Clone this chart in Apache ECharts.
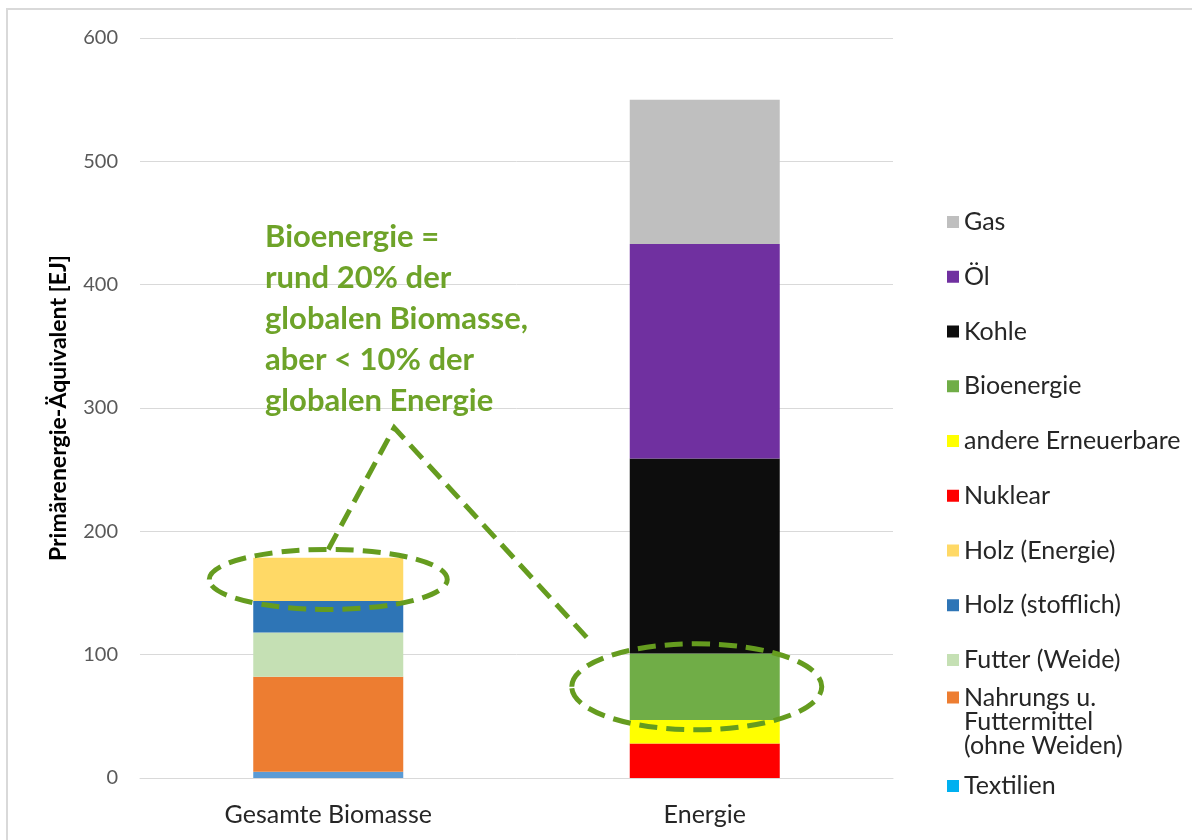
<!DOCTYPE html>
<html>
<head>
<meta charset="utf-8">
<title>Biomasse und Energie</title>
<script src="https://cdn.jsdelivr.net/npm/echarts@6/dist/echarts.min.js"></script>
<style>
  html, body { margin: 0; padding: 0; background: #ffffff; }
  #chart { width: 1192px; height: 840px; }
</style>
</head>
<body>
<div id="chart"></div>
<script>
// Kategorien der x-Achse
const categories = ['Gesamte Biomasse', 'Energie'];

// Gesamte Biomasse, von unten nach oben gestapelt [EJ]
const biomassNames = ['Textilien', 'Nahrungs u.\nFuttermittel\n(ohne Weiden)', 'Futter (Weide)', 'Holz (stofflich)', 'Holz (Energie)'];
const biomassValues = [5, 77, 36, 25.5, 35];
const biomassColors = ['#5b9bd5', '#ed7d31', '#c5e0b4', '#2e75b6', '#ffd966'];

// Globale Primärenergie, von unten nach oben gestapelt [EJ]
const energyNames = ['Nuklear', 'andere Erneuerbare', 'Bioenergie', 'Kohle', 'Öl', 'Gas'];
const energyValues = [28, 19, 54, 158, 174, 117];
const energyColors = ['#ff0000', '#ffff00', '#70ad47', '#0d0d0d', '#7030a0', '#bfbfbf'];

// Achsenbeschriftung der y-Achse
const yTicks = [0, 100, 200, 300, 400, 500, 600];

const annotationText = 'Bioenergie =\nrund 20% der\nglobalen Biomasse,\naber < 10% der\nglobalen Energie';

const FONT = 'Lato, "Open Sans", sans-serif';
const GREEN_DARK = '#659c1f';

const series = [];
biomassNames.forEach((name, i) => {
  series.push({
    name, type: 'bar', stack: 'gesamt', barWidth: 150,
    itemStyle: { color: biomassColors[i] },
    data: [biomassValues[i], null]
  });
});
energyNames.forEach((name, i) => {
  series.push({
    name, type: 'bar', stack: 'gesamt', barWidth: 150,
    itemStyle: { color: energyColors[i] },
    data: [null, energyValues[i]]
  });
});

const legendMain = ['Gas', 'Öl', 'Kohle', 'Bioenergie', 'andere Erneuerbare', 'Nuklear',
  'Holz (Energie)', 'Holz (stofflich)', 'Futter (Weide)'];

const legendText = { fontFamily: FONT, fontSize: 25, color: '#262626', lineHeight: 26 };
const legendCommon = {
  orient: 'vertical', left: 947, padding: 0,
  icon: 'rect', itemWidth: 12, itemHeight: 12,
  selectedMode: false,
  textStyle: legendText
};

const chart = echarts.init(document.getElementById('chart'), null, { renderer: 'canvas' });

chart.setOption({
  animation: false,
  backgroundColor: '#ffffff',
  textStyle: { fontFamily: FONT },
  grid: { left: 140, right: 299, top: 38, bottom: 62, containLabel: false },
  tooltip: { show: false },
  legend: [
    Object.assign({}, legendCommon, { top: 209, itemGap: 28.75, data: legendMain }),
    // mehrzeiliger Eintrag: Symbol auf Höhe der ersten Zeile
    Object.assign({}, legendCommon, {
      top: 637,
      data: [biomassNames[1]],
      formatter: name => '\n\n' + name,
      textStyle: Object.assign({}, legendText, { lineHeight: 24 })
    }),
    Object.assign({}, legendCommon, {
      top: 773,
      data: [{ name: 'Textilien', itemStyle: { color: '#00b0f0' } }]
    })
  ],
  xAxis: {
    type: 'category',
    data: categories,
    axisLine: { lineStyle: { color: '#d9d9d9', width: 1 } },
    axisTick: { show: false },
    axisLabel: { fontFamily: FONT, fontSize: 25, color: '#262626', margin: 24 }
  },
  yAxis: {
    type: 'value',
    min: yTicks[0], max: yTicks[yTicks.length - 1], interval: yTicks[1] - yTicks[0],
    name: 'Primärenergie-Äquivalent [EJ]',
    nameLocation: 'middle', nameRotate: 90, nameGap: 70,
    nameTextStyle: { fontFamily: FONT, fontSize: 23, fontWeight: 'bold', color: '#000000' },
    axisLine: { show: false },
    axisTick: { show: false },
    axisLabel: { fontFamily: FONT, fontSize: 20, color: '#595959', margin: 22 },
    splitLine: { lineStyle: { color: '#d9d9d9', width: 1 } }
  },
  series
});

// Hervorhebungen: Ellipsen um die beiden Bioenergie-Anteile und Verbindungslinie
const holzStoffTop = biomassValues.slice(0, 4).reduce((a, b) => a + b, 0);
const biomassTop = holzStoffTop + biomassValues[4];
const bioBottom = energyValues[0] + energyValues[1];
const bioTop = bioBottom + energyValues[2];

const c1 = chart.convertToPixel({ xAxisIndex: 0, yAxisIndex: 0 }, [0, (holzStoffTop + biomassTop) / 2]);
const c2 = chart.convertToPixel({ xAxisIndex: 0, yAxisIndex: 0 }, [1, (bioBottom + bioTop) / 2]);
c2[0] -= 8;
const r1 = [119, 30];
const r2 = [125, 43];
const apex = [c1[0] + 66, chart.convertToPixel({ yAxisIndex: 0 }, 284)];
const lineEnd = [c2[0] - 107, c2[1] - 46];

const dashed = { fill: null, stroke: GREEN_DARK, lineWidth: 5, lineDash: [18, 9] };

chart.setOption({
  graphic: [
    {
      type: 'rect', z: -10, silent: true,
      shape: { x: 7, y: 9, width: 1400, height: 1000 },
      style: { fill: null, stroke: '#d9d9d9', lineWidth: 2 }
    },
    {
      type: 'ellipse', z: 100, silent: true,
      shape: { cx: c1[0], cy: c1[1], rx: r1[0], ry: r1[1] },
      style: dashed
    },
    {
      type: 'ellipse', z: 100, silent: true,
      shape: { cx: c2[0], cy: c2[1], rx: r2[0], ry: r2[1] },
      style: dashed
    },
    {
      type: 'polyline', z: 100, silent: true,
      shape: { points: [[c1[0], c1[1] - r1[1]], apex, lineEnd] },
      style: dashed
    },
    {
      type: 'text', z: 100, silent: true,
      left: 265, top: 216,
      style: {
        text: annotationText,
        fontFamily: FONT, fontSize: 31, fontWeight: 'bold',
        lineHeight: 41, fill: '#6ea329'
      }
    }
  ]
});
</script>
</body>
</html>
